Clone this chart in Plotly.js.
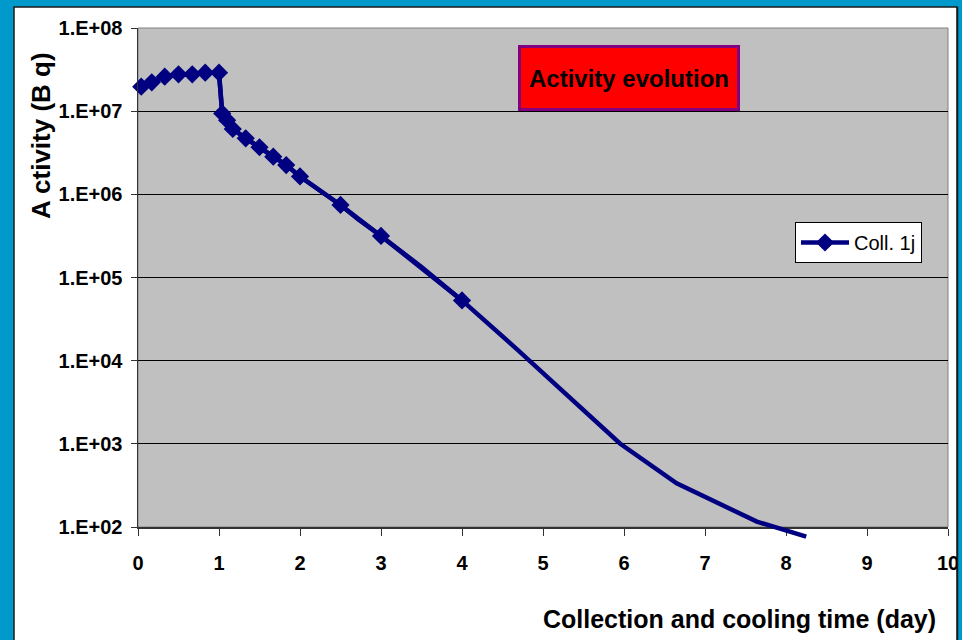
<!DOCTYPE html>
<html>
<head>
<meta charset="utf-8">
<script src="https://cdn.plot.ly/plotly-3.0.1.min.js"></script>
<style>
  html, body { margin: 0; padding: 0; background: #0099CC; }
  #chart { width: 962px; height: 640px; }
</style>
</head>
<body>
<div id="chart"></div>
<script>
// Collection (day 0-1) then cooling: activity of collimator "Coll. 1j"
const days = [0.04, 0.17, 0.33, 0.5, 0.67, 0.83, 1.0,
              1.04, 1.1, 1.17, 1.33, 1.5, 1.67, 1.83, 2.0,
              2.5, 2.72, 3.0, 3.5, 4.0, 4.69, 5.33, 5.95, 6.65, 7.64, 8.25];
const activity = [1.97e7, 2.22e7, 2.6e7, 2.77e7, 2.77e7, 2.9e7, 2.9e7,
                  9.4e6, 7.8e6, 6.1e6, 4.72e6, 3.68e6, 2.84e6, 2.25e6, 1.64e6,
                  7.45e5, 5.0e5, 3.16e5, 1.34e5, 5.3e4, 1.34e4, 3.6e3, 1.01e3, 336, 116, 76.6];
// 1 = point shown with a diamond marker
const marked = [1, 1, 1, 1, 1, 1, 1,
                1, 1, 1, 1, 1, 1, 1, 1,
                1, 0, 1, 0, 1, 0, 0, 0, 0, 0, 0];
const seriesName = 'Coll. 1j';

const yTickVals = [1e2, 1e3, 1e4, 1e5, 1e6, 1e7, 1e8];
const yTickText = ['1.E+02', '1.E+03', '1.E+04', '1.E+05', '1.E+06', '1.E+07', '1.E+08'];
const xTickVals = [0, 1, 2, 3, 4, 5, 6, 7, 8, 9, 10];

const FONT = 'Liberation Sans, Arial, sans-serif';
const NAVY = '#000080';
const LINE_W = 4.5;

// plot box geometry (pixels)
const M = { l: 138, r: 14, t: 28, b: 101 };
const W = 962, H = 640;
const plotW = W - M.l - M.r;        // 810
const plotH = H - M.t - M.b;        // 511
const below = 12;                   // extra room under the x axis for the curve tail
const yBottom = below / plotH;
const decadePx = (plotH - below) / 6;

const px = x => (x - M.l) / plotW;
const py = y => (M.t + plotH - y) / plotH;

const markedDays = days.filter((_, i) => marked[i]);
const markedActivity = activity.filter((_, i) => marked[i]);

// series with its diamond markers (drawn on the visible axes)
const markerTrace = {
  x: markedDays,
  y: markedActivity,
  name: seriesName,
  type: 'scatter',
  mode: 'lines+markers',
  cliponaxis: false,
  line: { color: NAVY, width: LINE_W },
  marker: { symbol: 'diamond', color: NAVY, size: 14, opacity: 1, line: { width: 0 } },
  hoverinfo: 'x+y'
};

// full curve, on a twin subplot that reaches a little below the x axis
const curveTrace = {
  x: days,
  y: activity,
  name: seriesName,
  type: 'scatter',
  mode: 'lines',
  xaxis: 'x2',
  yaxis: 'y2',
  showlegend: false,
  line: { color: NAVY, width: LINE_W },
  hoverinfo: 'x+y'
};

const axisFont = { family: FONT, size: 20, color: '#000', weight: 'bold' };

const layout = {
  width: W,
  height: H,
  margin: M,
  paper_bgcolor: '#0099CC',
  plot_bgcolor: 'rgba(0,0,0,0)',
  showlegend: true,
  xaxis: {
    domain: [0, 1],
    anchor: 'y',
    range: [0, 10],
    tickvals: xTickVals,
    ticks: 'outside',
    ticklen: 7,
    tickwidth: 1,
    tickcolor: '#333',
    showgrid: false,
    zeroline: false,
    showline: true,
    linecolor: '#333',
    linewidth: 1.5,
    tickfont: axisFont,
    ticklabelstandoff: 10
  },
  yaxis: {
    domain: [yBottom, 1],
    anchor: 'x',
    type: 'log',
    range: [2, 8],
    tickvals: yTickVals,
    ticktext: yTickText,
    ticks: 'outside',
    ticklen: 6,
    tickwidth: 1,
    tickcolor: '#333',
    showgrid: true,
    gridcolor: '#000',
    gridwidth: 1,
    zeroline: false,
    showline: true,
    linecolor: '#333',
    linewidth: 1.5,
    tickfont: axisFont,
    ticklabelstandoff: 4
  },
  xaxis2: {
    domain: [0, 1],
    anchor: 'y2',
    range: [0, 10],
    visible: false
  },
  yaxis2: {
    domain: [0, 1],
    anchor: 'x2',
    type: 'log',
    range: [2 - below / decadePx, 8],
    visible: false
  },
  legend: {
    x: px(795),
    y: py(222),
    xanchor: 'left',
    yanchor: 'top',
    bgcolor: '#fff',
    bordercolor: '#000',
    borderwidth: 1,
    itemwidth: 48,
    font: { family: FONT, size: 20, color: '#000' }
  },
  shapes: [
    // white chart area inside the blue frame
    { type: 'rect', xref: 'paper', yref: 'paper', layer: 'below',
      x0: px(14), x1: px(957), y0: py(646), y1: py(7),
      fillcolor: '#fff', line: { color: '#1a1a1a', width: 1.5 } },
    // grey plot area
    { type: 'rect', xref: 'paper', yref: 'paper', layer: 'below',
      x0: 0, x1: 1, y0: yBottom, y1: 1,
      fillcolor: '#C0C0C0', line: { color: '#808080', width: 1 } },
    // right edge of the frame
    { type: 'rect', xref: 'paper', yref: 'paper', layer: 'above',
      x0: px(958), x1: px(966), y0: py(650), y1: py(-5),
      fillcolor: '#0099CC', line: { width: 0 } },
    { type: 'line', xref: 'paper', yref: 'paper', layer: 'above',
      x0: px(957.5), x1: px(957.5), y0: py(646), y1: py(7),
      line: { color: '#1a1a1a', width: 1.5 } }
  ],
  annotations: [
    {
      text: 'Activity evolution',
      xref: 'paper', yref: 'paper',
      x: px(628.5), y: py(77.5),
      xanchor: 'center', yanchor: 'middle',
      showarrow: false,
      width: 216, height: 60,
      bgcolor: '#FF0000',
      bordercolor: '#800080',
      borderwidth: 3,
      borderpad: 0,
      font: { family: FONT, size: 24, color: '#000', weight: 'bold' }
    },
    {
      text: 'A ctivity (B q)',
      xref: 'paper', yref: 'paper',
      x: px(41), y: py(136),
      xanchor: 'center', yanchor: 'middle',
      textangle: -90,
      showarrow: false,
      font: { family: FONT, size: 26, color: '#000', weight: 'bold' }
    },
    {
      text: 'Collection and cooling time (day)',
      xref: 'paper', yref: 'paper',
      x: px(739), y: py(619),
      xanchor: 'center', yanchor: 'middle',
      showarrow: false,
      font: { family: FONT, size: 25, color: '#000', weight: 'bold' }
    }
  ]
};

Plotly.newPlot('chart', [markerTrace, curveTrace], layout, { displayModeBar: false, staticPlot: true });
</script>
</body>
</html>
